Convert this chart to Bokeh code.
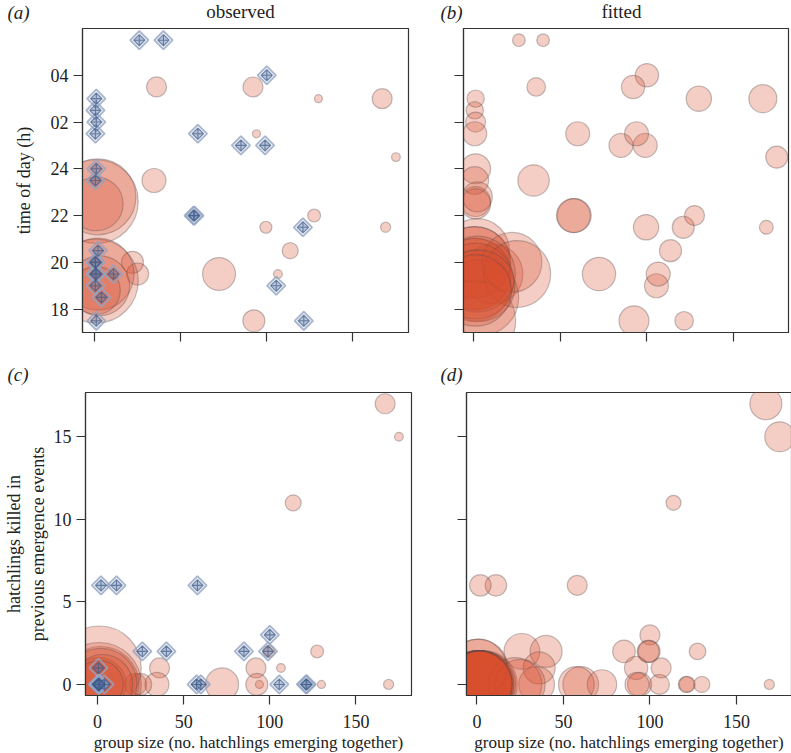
from math import pi
import numpy as np
from bokeh.plotting import figure
from bokeh.models import Range1d, FixedTicker
from bokeh.core.properties import value
from bokeh.layouts import column, row
from bokeh.embed import file_html
from bokeh.resources import INLINE

# ---- data: one entry per emergence event ----
group_size = [26, 40, 100, 85, 99, 60, 58, 57.5, 121, 121.5, 105.5, 11,
              1, 0.5, 1, 0.5, 1, 0.5, 2, 0.5, 0.5, 0.5, 1, 0.5, 4, 1,
              36, 92, 130, 167, 94, 175, 34.5, 127.5, 99.5, 169, 113.6, 72.3,
              106.5, 92.5, 22, 25, 1, 2, 1, 1, 2, 3, 1]
time_of_day = [29.5, 29.5, 28, 25, 25, 25.5, 22, 22, 21.5, 17.5, 19, 19.5,
               27, 26.5, 26, 25.5, 24, 23.5, 20.5, 20, 20, 19.5, 19.5, 19, 18.5, 17.5,
               27.5, 27.5, 27, 27, 25.5, 24.5, 23.5, 22, 21.5, 21.5, 20.5, 19.5,
               19.5, 17.5, 20, 19.5, 22.6, 22.8, 22.5, 19.2, 19.5, 19.0, 18.8]
killed_prev = [2, 2, 3, 2, 2, 0, 6, 0, 0, 0, 0, 6,
               0, 0, 0, 0, 0, 0, 6, 1, 0, 0, 0, 0, 0, 0,
               1, 1, 0, 17, 0, 15, 0, 2, 2, 0, 11, 0,
               1, 0, 0, 0, 1, 0, 0, 0, 0, 0, 0]
obs_predated = [0] * 26 + [6.25, 6.25, 1, 6.25, 1, 1.2, 9, 2.6, 2.25, 1.6, 4, 17,
                           1.2, 7.6, 7.6, 7.6, 110, 90, 45, 110, 81, 56, 36]
fit_time = [2.5, 2.5, 8.5, 9, 9, 9, 18, 18, 7.6, 5.4, 9, 56,
            4.7, 4.7, 6.25, 9, 14, 12, 64, 80, 80, 80, 80, 80, 90, 100,
            5.4, 8.5, 10, 12.25, 9, 7.6, 15.4, 6.25, 10, 3, 7.6, 17.4,
            9, 14, 56, 70, 14, 14, 14, 90, 90, 80, 80]
fit_killed = [20, 16, 6.25, 8, 7.6, 20, 6.25, 20, 4, 4, 6.25, 7.2,
              70, 70, 70, 70, 70, 70, 7.2, 52, 70, 70, 70, 70, 70, 70,
              16, 8.5, 4, 16, 9, 14, 20, 4.3, 7.6, 1.6, 3.5, 13.5,
              6.25, 9, 45, 39, 52, 70, 70, 70, 70, 70, 70]

time_ticks = [18, 20, 22, 24, 26, 28]
time_tick_labels = ["18", "20", "22", "24", "02", "04"]
group_ticks = [0, 50, 100, 150]
killed_ticks = [0, 5, 10, 15]

panel_tags = ["(a)", "(b)", "(c)", "(d)"]
column_titles = ["observed", "fitted"]
x_label = "group size (no. hatchlings emerging together)"
y_label_time = "time of day (h)"
y_label_killed = "hatchlings killed in\nprevious emergence events"

FONT = "Liberation Serif"
FILL = "#d9502e"
DARK = "#333333"
TXT = "#222222"

gs = np.array(group_size, dtype=float)
tod = np.array(time_of_day, dtype=float)
kp = np.array(killed_prev, dtype=float)
obs = np.array(obs_predated, dtype=float)
ft = np.array(fit_time, dtype=float)
fk = np.array(fit_killed, dtype=float)


def size_of(n):
    return 8.0 * np.sqrt(n)


def make_fig(xr, yr, fw, fh, left, right, top, bottom):
    p = figure(frame_width=fw, frame_height=fh,
               x_range=Range1d(*xr), y_range=Range1d(*yr),
               output_backend="svg", toolbar_location=None, tools="")
    p.title.visible = False
    p.min_border_left = left
    p.min_border_right = right
    p.min_border_top = top
    p.min_border_bottom = bottom
    p.grid.visible = False
    p.outline_line_color = DARK
    p.outline_line_width = 1.2
    p.background_fill_color = "white"
    p.border_fill_color = "white"
    for ax in p.axis:
        ax.axis_line_color = DARK
        ax.axis_line_width = 1.2
        ax.major_tick_line_color = DARK
        ax.major_tick_line_width = 1.2
        ax.major_tick_in = 0
        ax.major_tick_out = 9
        ax.minor_tick_line_color = None
        ax.major_label_text_font = FONT
        ax.major_label_text_font_size = "18px"
        ax.major_label_text_color = TXT
        ax.major_label_standoff = 5
        ax.axis_label_text_font = FONT
        ax.axis_label_text_font_size = "18px"
        ax.axis_label_text_font_style = "normal"
        ax.axis_label_text_color = TXT
    return p


def hide_labels(ax, ticks):
    ax.major_label_overrides = {t: "" for t in ticks}
    ax.major_label_standoff = 0


def circles(p, x, y, n):
    m = n > 0
    p.scatter(x[m], y[m], size=size_of(n[m]), marker="circle",
              fill_color=FILL, fill_alpha=0.28,
              line_color="#5a4a4a", line_alpha=0.35, line_width=1.2)


def diamonds(p, x, y):
    p.scatter(x, y, marker="square", angle=pi / 4, size=13,
              fill_color="#3a5f8f", fill_alpha=0.1,
              line_color="#95a5c4", line_alpha=0.8, line_width=1.8)
    p.scatter(x, y, marker="square_x", angle=pi / 4, size=8,
              fill_color="#5a78a8", fill_alpha=0.35,
              line_color="#3f5a88", line_alpha=0.7, line_width=1.1)


def strip(w, h):
    s = figure(frame_width=w, frame_height=h, x_range=Range1d(0, w),
               y_range=Range1d(h, 0), x_axis_type=None, y_axis_type=None,
               output_backend="svg", toolbar_location=None, tools="")
    s.title.visible = False
    s.min_border_left = 0
    s.min_border_right = 0
    s.min_border_top = 0
    s.min_border_bottom = 0
    s.outline_line_color = None
    s.background_fill_color = "white"
    s.border_fill_color = "white"
    return s


def strip_text(s, xs, ys, texts, align, italic):
    s.text(x=xs, y=ys, text=texts, text_font=value(FONT),
           text_font_size=value("19px"),
           text_font_style="italic" if italic else "normal",
           text_align=align, text_baseline="middle", text_color=TXT)


XR_L = (-7, 182.3)
XR_R = (-6, 181.8)
YR_T = (17, 30)
YR_K = (-0.67, 17.68)
TOTAL_W = 82 + 326 + 15 + 40 + 325 + 2

# header strip with panel tags and column titles
head = strip(TOTAL_W, 26)
strip_text(head, [7, 440], [12, 12], [panel_tags[0], panel_tags[1]], "left", True)
strip_text(head, [240, 621], [11, 11], column_titles, "center", False)

# (a) observed, time of day
pa = make_fig(XR_L, YR_T, 326, 304, 82, 15, 2, 30)
circles(pa, gs, tod, obs)
diamonds(pa, gs[obs == 0], tod[obs == 0])
pa.xaxis.ticker = FixedTicker(ticks=group_ticks)
hide_labels(pa.xaxis[0], group_ticks)
pa.yaxis.ticker = FixedTicker(ticks=time_ticks)
pa.yaxis.major_label_overrides = {t: l for t, l in zip(time_ticks, time_tick_labels)}
pa.yaxis.axis_label = y_label_time
pa.yaxis.axis_label_standoff = 14

# (b) fitted, time of day
pb = make_fig(XR_R, YR_T, 325, 304, 40, 2, 2, 30)
circles(pb, gs, tod, ft)
pb.xaxis.ticker = FixedTicker(ticks=group_ticks)
hide_labels(pb.xaxis[0], group_ticks)
pb.yaxis.ticker = FixedTicker(ticks=time_ticks)
hide_labels(pb.yaxis[0], time_ticks)

# middle strip with (c), (d)
mid = strip(TOTAL_W, 26)
strip_text(mid, [7, 440], [12, 12], [panel_tags[2], panel_tags[3]], "left", True)

# (c) observed, hatchlings killed
pc = make_fig(XR_L, YR_K, 326, 303, 82, 15, 4, 57)
circles(pc, gs, kp, obs)
diamonds(pc, gs[obs == 0], kp[obs == 0])
pc.xaxis.ticker = FixedTicker(ticks=group_ticks)
pc.yaxis.ticker = FixedTicker(ticks=killed_ticks)
pc.xaxis.major_label_standoff = 10
pc.xaxis.axis_label = x_label
pc.xaxis.axis_label_standoff = 2
pc.xaxis.axis_label_text_font_size = "17px"
pc.yaxis.axis_label = y_label_killed
pc.yaxis.axis_label_standoff = 3

# (d) fitted, hatchlings killed
pd_ = make_fig(XR_R, YR_K, 325, 303, 40, 2, 4, 57)
circles(pd_, gs, kp, fk)
pd_.xaxis.ticker = FixedTicker(ticks=group_ticks)
pd_.yaxis.ticker = FixedTicker(ticks=killed_ticks)
hide_labels(pd_.yaxis[0], killed_ticks)
pd_.xaxis.major_label_standoff = 10
pd_.xaxis.axis_label = x_label
pd_.xaxis.axis_label_standoff = 2
pd_.xaxis.axis_label_text_font_size = "17px"

layout = column(head, row(pa, pb), mid, row(pc, pd_))
open("out.html", "w").write(file_html(layout, INLINE))
